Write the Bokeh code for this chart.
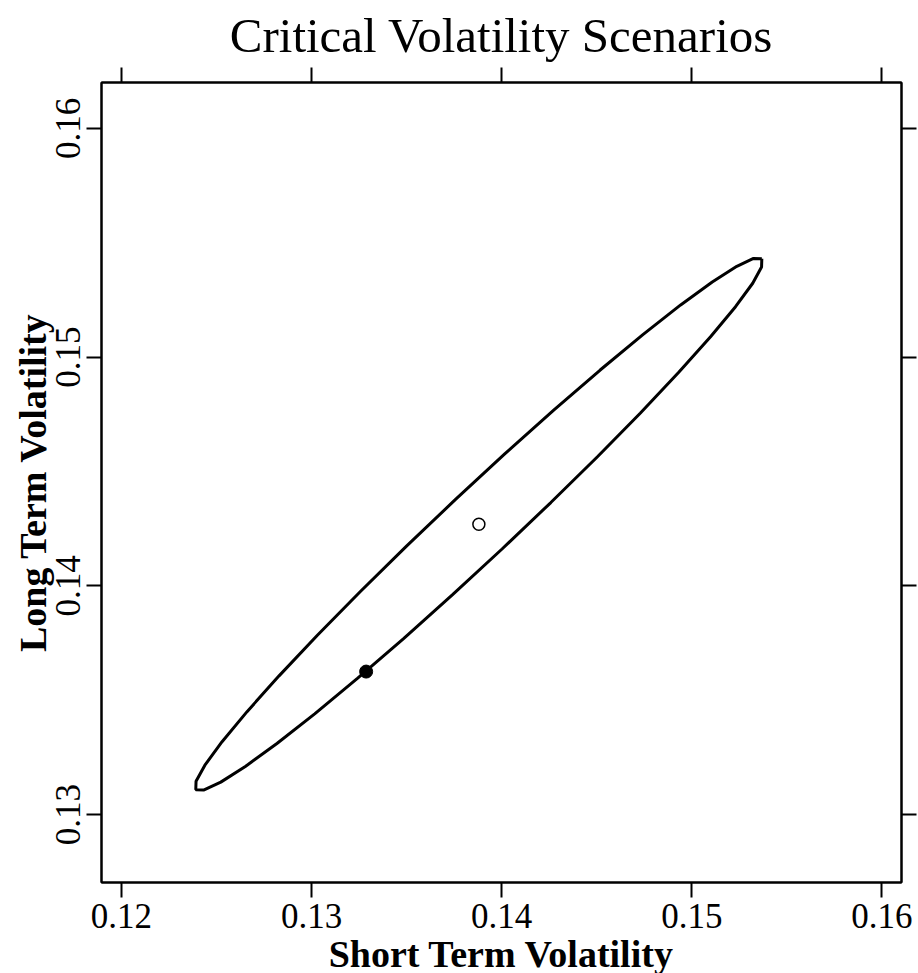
from bokeh.plotting import figure
from bokeh.models import Range1d, LinearAxis, FixedTicker, NumeralTickFormatter
from bokeh.embed import file_html
from bokeh.resources import INLINE

# Ellipse outline (short-term vs long-term volatility)
ellipse_x = [0.153683, 0.153669, 0.153204, 0.152300, 0.150986, 0.149302, 0.147299, 0.145037,
             0.142585, 0.140019, 0.137417, 0.134855, 0.132411, 0.130164, 0.128178, 0.126516,
             0.125224, 0.124347, 0.123909, 0.123923, 0.124388, 0.125292, 0.126606, 0.128290,
             0.130293, 0.132555, 0.135007, 0.137573, 0.140175, 0.142737, 0.145181, 0.147428,
             0.149414, 0.151076, 0.152368, 0.153245, 0.153683]
ellipse_y = [0.154296, 0.153932, 0.153225, 0.152199, 0.150885, 0.149321, 0.147556, 0.145643,
             0.143639, 0.141609, 0.139611, 0.137705, 0.135952, 0.134403, 0.133107, 0.132101,
             0.131417, 0.131076, 0.131088, 0.131452, 0.132159, 0.133185, 0.134499, 0.136063,
             0.137828, 0.139741, 0.141745, 0.143775, 0.145773, 0.147679, 0.149432, 0.150981,
             0.152277, 0.153283, 0.153967, 0.154308, 0.154296]

# Centre (open circle) and critical scenario (filled point)
center_x = [0.13880]
center_y = [0.14269]
critical_x = [0.13287]
critical_y = [0.13625]

tick_values = [0.12, 0.13, 0.14, 0.15, 0.16]

FONT = "Liberation Serif"

p = figure(width=918, height=972, frame_width=800, frame_height=800,
           x_range=Range1d(0.11895, 0.16103), y_range=Range1d(0.12703, 0.16200),
           x_axis_location=None, y_axis_location=None,
           output_backend="svg", toolbar_location=None,
           min_border_left=101, min_border_right=17, min_border_top=77, min_border_bottom=95)

p.title.text = "Critical Volatility Scenarios"
p.title.align = "center"
p.title.text_font = FONT
p.title.text_font_style = "normal"
p.title.text_font_size = "49px"
p.title.text_color = "black"
p.title.standoff = 10

p.xgrid.visible = False
p.ygrid.visible = False
p.outline_line_color = "black"
p.outline_line_width = 2
p.background_fill_color = "white"
p.border_fill_color = "white"

bottom_axis = LinearAxis(axis_label="Short Term Volatility")
left_axis = LinearAxis(axis_label="Long Term Volatility")
top_axis = LinearAxis()
right_axis = LinearAxis()
p.add_layout(bottom_axis, "below")
p.add_layout(left_axis, "left")
p.add_layout(top_axis, "above")
p.add_layout(right_axis, "right")

for ax in [bottom_axis, left_axis, top_axis, right_axis]:
    ax.ticker = FixedTicker(ticks=tick_values)
    ax.formatter = NumeralTickFormatter(format="0.00")
    ax.minor_tick_line_color = None
    ax.major_tick_in = 0
    ax.major_tick_out = 15
    ax.major_tick_line_width = 2
    ax.major_tick_line_color = "black"
    ax.axis_line_width = 2
    ax.axis_line_color = "black"
    ax.major_label_text_font = FONT
    ax.major_label_text_font_size = "35px"
    ax.major_label_text_color = "black"
    ax.major_label_standoff = 6

for ax in [top_axis, right_axis]:
    ax.major_label_text_font_size = "1px"
    ax.major_label_text_color = None
    ax.major_label_standoff = 0

for ax in [bottom_axis, left_axis]:
    ax.axis_label_text_font = FONT
    ax.axis_label_text_font_style = "bold"
    ax.axis_label_text_font_size = "38px"
    ax.axis_label_text_color = "black"
bottom_axis.axis_label_standoff = 2
left_axis.axis_label_standoff = 0
left_axis.major_label_orientation = "vertical"

p.line(ellipse_x, ellipse_y, line_color="black", line_width=3)
p.scatter(center_x, center_y, size=12, marker="circle", fill_color="white",
          line_color="black", line_width=1.5)
p.scatter(critical_x, critical_y, size=13, marker="circle", fill_color="black",
          line_color="black")

open("out.html", "w").write(file_html(p, INLINE))
